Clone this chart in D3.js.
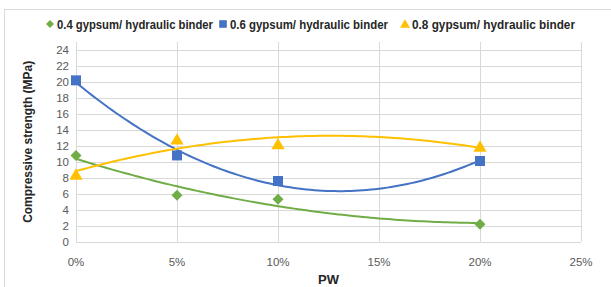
<!DOCTYPE html>
<html>
<head>
<meta charset="utf-8">
<script src="https://cdn.jsdelivr.net/npm/d3@7"></script>
<style>
  body { margin: 0; background: #fff; }
  svg { display: block; font-family: "Liberation Sans", Arial, sans-serif; }
  .grid line { stroke: #d9d9d9; stroke-width: 1; }
  .tick-label { fill: #595959; font-size: 11.5px; }
  .axis-title { fill: #262626; font-size: 13px; font-weight: bold; }
  .legend-text { fill: #262626; font-size: 12px; font-weight: bold; }
</style>
</head>
<body>
<div id="chart"></div>
<script>
// PW content (fraction)
const pw = [0, 0.05, 0.10, 0.20];
const ratio04 = [10.8, 5.8, 5.3, 2.2];
const ratio06 = [20.2, 10.8, 7.6, 10.1];
const ratio08 = [8.4, 12.8, 12.2, 11.9];
const xTicks = [0, 0.05, 0.10, 0.15, 0.20, 0.25];
const yTicks = [0, 2, 4, 6, 8, 10, 12, 14, 16, 18, 20, 22, 24];

const series = [
    { name: '0.4 gypsum/ hydraulic binder', values: ratio04, color: '#70ad47', shape: 'diamond' },
    { name: '0.6 gypsum/ hydraulic binder', values: ratio06, color: '#4472c4', shape: 'square' },
    { name: '0.8 gypsum/ hydraulic binder', values: ratio08, color: '#ffc000', shape: 'triangle' }
];

const width = 611, height = 287;
const svg = d3.select('#chart').append('svg')
    .attr('width', width)
    .attr('height', height);

// chart border
svg.append('rect')
    .attr('x', 4.5).attr('y', 9.5)
    .attr('width', 620).attr('height', 300)
    .attr('fill', 'none').attr('stroke', '#d9d9d9');

const x = d3.scaleLinear().domain([0, 0.25]).range([76, 581]);
const y = d3.scaleLinear().domain([0, 25]).range([241.7, 42]);

// gridlines
const grid = svg.append('g').attr('class', 'grid');
grid.selectAll('.h').data(yTicks).enter().append('line')
    .attr('x1', x(0)).attr('x2', x(0.25))
    .attr('y1', d => Math.round(y(d)) + 0.5).attr('y2', d => Math.round(y(d)) + 0.5);
grid.selectAll('.v').data(xTicks).enter().append('line')
    .attr('x1', d => Math.round(x(d)) + 0.5).attr('x2', d => Math.round(x(d)) + 0.5)
    .attr('y1', y(25)).attr('y2', y(0));

// tick labels
svg.selectAll('.ylab').data(yTicks).enter().append('text')
    .attr('class', 'tick-label')
    .attr('x', 69).attr('y', d => y(d) + 4)
    .attr('text-anchor', 'end')
    .text(d => d);
const fmt = d3.format('.0%');
svg.selectAll('.xlab').data(xTicks).enter().append('text')
    .attr('class', 'tick-label')
    .attr('x', d => x(d)).attr('y', 266)
    .attr('text-anchor', 'middle')
    .text(d => fmt(d));

// axis titles
svg.append('text').attr('class', 'axis-title')
    .attr('x', x(0.125)).attr('y', 284)
    .attr('text-anchor', 'middle').text('PW');
svg.append('text').attr('class', 'axis-title')
    .attr('transform', `translate(32, ${y(12.5)}) rotate(-90)`)
    .attr('text-anchor', 'middle')
    .attr('textLength', 162).attr('lengthAdjust', 'spacingAndGlyphs')
    .text('Compressive strength (MPa)');

// least squares fit, order 2 (like the Excel trendline)
function polyFit2(xs, ys) {
    let s = [0, 0, 0, 0, 0], t = [0, 0, 0];
    xs.forEach((xv, i) => {
        for (let k = 0; k < 5; k++) s[k] += Math.pow(xv, k);
        for (let k = 0; k < 3; k++) t[k] += ys[i] * Math.pow(xv, k);
    });
    const A = [[s[0], s[1], s[2], t[0]], [s[1], s[2], s[3], t[1]], [s[2], s[3], s[4], t[2]]];
    for (let c = 0; c < 3; c++) {
        for (let r = c + 1; r < 3; r++) {
            const f = A[r][c] / A[c][c];
            for (let k = c; k < 4; k++) A[r][k] -= f * A[c][k];
        }
    }
    const b = [0, 0, 0];
    for (let r = 2; r >= 0; r--) {
        let v = A[r][3];
        for (let k = r + 1; k < 3; k++) v -= A[r][k] * b[k];
        b[r] = v / A[r][r];
    }
    return xv => b[0] + b[1] * xv + b[2] * xv * xv;
}

// marker paths, r = half size
function marker(shape, r) {
    if (shape === 'diamond') return `M0,${-r}L${r},0L0,${r}L${-r},0Z`;
    if (shape === 'square') return `M${-r},${-r}H${r}V${r}H${-r}Z`;
    return `M0,${-r * 1.05}L${r * 1.1},${r * 0.85}H${-r * 1.1}Z`;
}

const line = d3.line().x(d => x(d[0])).y(d => y(d[1]));
const xs = d3.range(0, 100.5).map(i => i * 0.002);

series.forEach(s => {
    const f = polyFit2(pw, s.values);
    svg.append('path')
        .attr('d', line(xs.map(v => [v, f(v)])))
        .attr('fill', 'none')
        .attr('stroke', s.color)
        .attr('stroke-width', 2);
});

series.forEach(s => {
    const r = s.shape === 'diamond' ? 5.5 : (s.shape === 'square' ? 5 : 6);
    svg.selectAll(null).data(pw.map((p, i) => [p, s.values[i]])).enter().append('path')
        .attr('transform', d => `translate(${x(d[0])},${y(d[1])})`)
        .attr('d', marker(s.shape, r))
        .attr('fill', s.color);
});

// legend
const legendX = [50, 223, 405];
const legendLen = [156, 158, 163];
series.forEach((s, i) => {
    const g = svg.append('g').attr('transform', `translate(${legendX[i]}, 24)`);
    g.append('path')
        .attr('d', marker(s.shape, s.shape === 'diamond' ? 4 : (s.shape === 'square' ? 3.8 : 4.5)))
        .attr('fill', s.color);
    g.append('text').attr('class', 'legend-text')
        .attr('x', 7).attr('y', 4.5)
        .attr('textLength', legendLen[i]).attr('lengthAdjust', 'spacingAndGlyphs')
        .text(s.name);
});
</script>
</body>
</html>
